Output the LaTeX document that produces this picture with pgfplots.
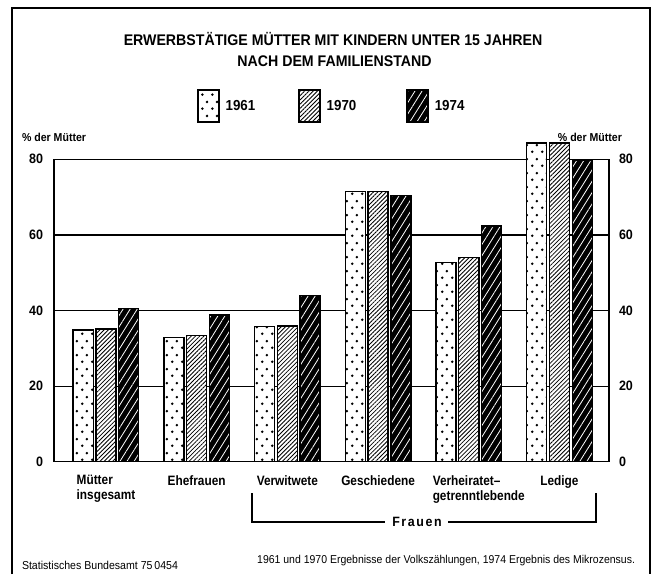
\documentclass[border=0pt]{standalone}
\usepackage{pgfplots}
\pgfplotsset{compat=1.18}
\usetikzlibrary{patterns,patterns.meta}
\usepackage{fontspec}
\setmainfont{Liberation Sans}[FakeStretch=0.92]
\newfontfamily\narrowfont{Liberation Sans}[FakeStretch=0.87]

\pgfdeclarepatternformonly{stdots}{\pgfpointorigin}{\pgfpoint{10pt}{14pt}}{\pgfpoint{10pt}{14pt}}{%
  \pgfpathcircle{\pgfpoint{2.5pt}{3.5pt}}{1.5pt}%
  \pgfpathcircle{\pgfpoint{7.5pt}{10.5pt}}{1.5pt}%
  \pgfusepath{fill}}

\newcommand{\lab}{\bfseries\fontsize{13.6}{15}\selectfont}
\newcommand{\clab}{\narrowfont\bfseries\fontsize{13.6}{15}\selectfont}

\begin{document}
\begin{tikzpicture}[t/.style={inner sep=0pt, outer sep=0pt}]
\path[use as bounding box] (0pt,0pt) rectangle (653pt,-574pt);
\draw[line width=2pt] (12pt,-574pt) -- (12pt,-8pt) -- (650pt,-8pt) -- (650pt,-574pt);
\node[t, anchor=base, font=\bfseries\fontsize{15.4}{15.4}\selectfont] at (333pt,-45pt) {ERWERBSTÄTIGE MÜTTER MIT KINDERN UNTER 15 JAHREN};
\node[t, anchor=base, font=\bfseries\fontsize{15.4}{15.4}\selectfont] at (334.5pt,-66pt) {NACH DEM FAMILIENSTAND};

\begin{axis}[at={(54pt,-461.7pt)}, anchor=south west, scale only axis,
  width=555pt, height=302.4pt,
  xmin=-0.573, xmax=5.546, ymin=0, ymax=80,
  hide x axis, axis y line*=right, axis line style={draw=none},
  ytick={0,20,40,60,80}, major tick length=0pt,
  /pgf/number format/assume math mode=true,
  yticklabel style={font=\lab, xshift=6.5pt}]
\addplot[draw=none] coordinates {(0,0)};
\end{axis}

\begin{axis}[at={(54pt,-461.7pt)}, anchor=south west, scale only axis,
  width=555pt, height=302.4pt,
  xmin=-0.573, xmax=5.546, ymin=0, ymax=80, clip=false,
  ybar, bar width=0.221,
  xtick={0,1,2,3,4,5},
  xticklabels={{Mütter\\insgesamt},Ehefrauen,Verwitwete,Geschiedene,{\hspace*{20pt}Verheiratet–\\\hspace*{20pt}getrenntlebende},Ledige},
  xticklabel style={align=left, font=\clab, yshift=-10pt},
  ytick={0,20,40,60,80}, ymajorgrids, grid style={black, line width=1.2pt},
  major tick length=0pt, axis line style={line width=1.4pt},
  /pgf/number format/assume math mode=true,
  yticklabel style={font=\lab, xshift=-7.5pt},
  legend columns=3,
  legend style={at={(0.2577,1.1763)}, anchor=west, draw=none, fill=none, inner sep=0pt,
    font=\bfseries\fontsize{14.5}{14.5}\selectfont,
    /tikz/every odd column/.append style={column sep=4pt},
    /tikz/column 2/.style={column sep=41pt},
    /tikz/column 4/.style={column sep=48pt}},
  leg/.style={legend image code/.code={\draw[##1] (0pt,-16pt) rectangle (21pt,16pt);}},
]
\addplot[leg, bar shift=-0.251, draw=black, line width=1.4pt, preaction={fill=white}, preaction={pattern=stdots}]
  coordinates {(0,34.8) (1,32.8) (2,35.7) (3,71.5) (4,52.7) (5,84.3)};
\addplot[leg, bar shift=0, draw=black, line width=1.4pt, preaction={fill=white}, preaction={pattern={Lines[angle=45,distance=3pt,line width=0.8pt]}}]
  coordinates {(0,35.1) (1,33.4) (2,35.9) (3,71.5) (4,54.0) (5,84.3)};
\addplot[leg, bar shift=0.251, draw=black, line width=1.4pt, preaction={fill=black}, preaction={pattern={Lines[angle=58,distance=6pt,line width=0.8pt]}, pattern color=white}]
  coordinates {(0,40.6) (1,38.8) (2,43.9) (3,70.5) (4,62.4) (5,79.7)};
\legend{1961,1970,1974}
\end{axis}

\node[t, anchor=west, font=\bfseries\fontsize{11.5}{11.5}\selectfont] at (22pt,-137pt) {\% der Mütter};
\node[t, anchor=east, font=\bfseries\fontsize{11.5}{11.5}\selectfont] at (622pt,-137pt) {\% der Mütter};

\draw[line width=1.3pt] (252pt,-493pt) -- (252pt,-522pt) -- (385pt,-522pt);
\draw[line width=1.3pt] (448pt,-522pt) -- (596pt,-522pt) -- (596pt,-493pt);
\node[t, font=\bfseries\fontsize{13.5}{13.5}\selectfont\addfontfeatures{LetterSpace=12}] at (417pt,-522pt) {Frauen};

\node[t, anchor=base west, font=\fontsize{11.5}{11.5}\selectfont] at (22pt,-569pt) {Statistisches Bundesamt 75\,0454};
\node[t, anchor=base east, font=\fontsize{11.4}{11.4}\selectfont] at (635pt,-563pt) {1961 und 1970 Ergebnisse der Volkszählungen, 1974 Ergebnis des Mikrozensus.};
\end{tikzpicture}
\end{document}
